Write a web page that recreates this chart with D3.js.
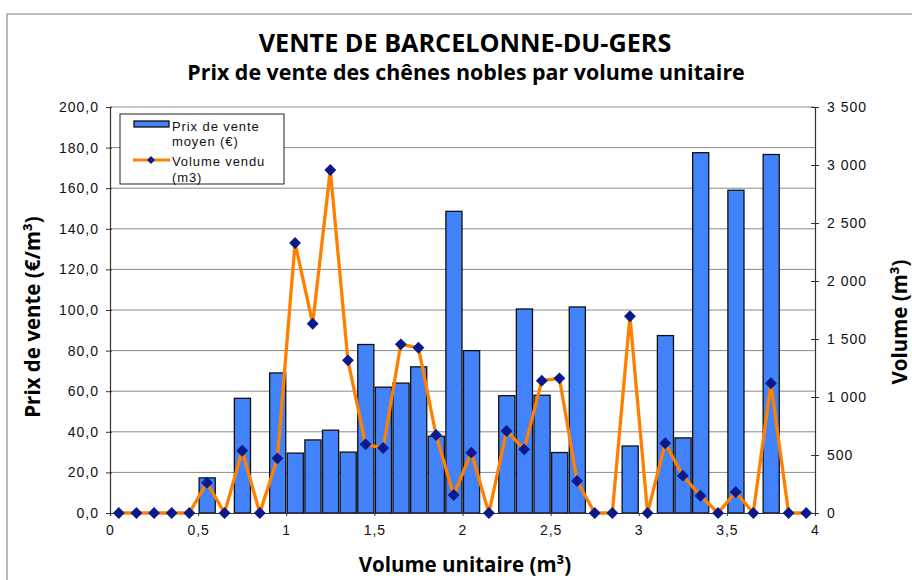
<!DOCTYPE html>
<html><head><meta charset="utf-8">
<script src="https://cdn.jsdelivr.net/npm/d3@7"></script>
<style>body{margin:0;background:#fff}svg{display:block}</style>
</head><body>
<svg id="c" width="912" height="580"></svg>
<script>
const categories = [0.05,0.15,0.25,0.35,0.45,0.55,0.65,0.75,0.85,0.95,1.05,1.15,1.25,1.35,1.45,1.55,1.65,1.75,1.85,1.95,2.05,2.15,2.25,2.35,2.45,2.55,2.65,2.75,2.85,2.95,3.05,3.15,3.25,3.35,3.45,3.55,3.65,3.75,3.85,3.95];
const prix = [0,0,0,0,0,17.3,0,56.5,0,69,29.5,36,40.8,30,83,62,64,72,37.8,148.6,80,0,57.8,100.5,58,29.8,101.5,0,0,33,0,87.4,37,177.5,0,159,0,176.6,0,0];
const volume = [0,0,0,0,0,261,0,537,0,471,2328,1632,2957,1316,592,560,1454,1425,672,155,520,0,707,549,1141,1161,276,0,0,1696,0,601,322,149,0,181,0,1118,0,0];
const leftTicks = [0,20,40,60,80,100,120,140,160,180,200];
const rightTicks = [0,500,1000,1500,2000,2500,3000,3500];
const xTicks = [0,0.5,1,1.5,2,2.5,3,3.5,4];
const titleText = "VENTE DE BARCELONNE-DU-GERS";
const subtitleText = "Prix de vente des chênes nobles par volume unitaire";

const svg = d3.select("#c");
const L = 110, R = 815, T = 107, B = 513;
const x = d3.scaleLinear().domain([0,4]).range([L,R]);
const y = d3.scaleLinear().domain([0,200]).range([B,T]);
const y2 = d3.scaleLinear().domain([0,3500]).range([B,T]);
const binW = x(0.1) - x(0);

// frame
svg.append("rect").attr("x",9).attr("y",16).attr("width",920).attr("height",600)
  .attr("fill","none").attr("stroke","#d0d0d0").attr("stroke-width",4);
svg.append("rect").attr("x",7).attr("y",14).attr("width",920).attr("height",600)
  .attr("fill","#fff").attr("stroke","#909090").attr("stroke-width",1.2);

// gridlines
svg.append("g").selectAll("line").data(leftTicks.filter(d=>d>0)).join("line")
  .attr("x1",L).attr("x2",R).attr("y1",d=>y(d)).attr("y2",d=>y(d))
  .attr("stroke","#8a8a8a").attr("stroke-width",1);

// bars
svg.append("g").selectAll("rect").data(categories.map((c,i)=>({c,v:prix[i]})).filter(d=>d.v>0)).join("rect")
  .attr("x",d=>x(d.c)-binW/2+1).attr("width",binW-1.5)
  .attr("y",d=>y(d.v)).attr("height",d=>B-y(d.v))
  .attr("fill","#4282fa").attr("stroke","#111").attr("stroke-width",1.3);

// axes
const gl = svg.append("g").attr("transform",`translate(${L},0)`)
  .call(d3.axisLeft(y).tickValues(leftTicks).tickSize(4).tickFormat(d=>d3.format(".1f")(d).replace(".",",")));
const gr = svg.append("g").attr("transform",`translate(${R},0)`)
  .call(d3.axisRight(y2).tickValues(rightTicks).tickSize(4).tickFormat(d=>d3.format(",")(d).replace(/,/g," ")));
const gb = svg.append("g").attr("transform",`translate(0,${B})`)
  .call(d3.axisBottom(x).tickValues(xTicks).tickSize(3).tickFormat(d=>String(d).replace(".",",")));
[gl,gr,gb].forEach(g=>{
  g.select(".domain").attr("stroke","#333").attr("stroke-width",1.2);
  g.selectAll(".tick line").attr("stroke","#333");
  g.selectAll("text").attr("font-family","Liberation Sans, Arial, sans-serif").attr("font-size",14)
    .attr("letter-spacing","1px").attr("fill","#111");
});
gl.selectAll(".tick line").attr("x1",2);
gr.selectAll(".tick line").attr("x1",-4);
gl.selectAll("text").attr("x",-11);
gr.selectAll("text").attr("x",12);
gb.selectAll("text").attr("y",12);

// line
const pts = categories.map((c,i)=>({c,v:volume[i]}));
svg.append("path").datum(pts)
  .attr("d",d3.line().x(d=>x(d.c)).y(d=>y2(d.v)))
  .attr("fill","none").attr("stroke","#ff8000").attr("stroke-width",3.3).attr("stroke-linejoin","round");
const sym = d3.symbol().type(d3.symbolDiamond2).size(90);
svg.append("g").selectAll("path").data(pts).join("path")
  .attr("transform",d=>`translate(${x(d.c)},${y2(d.v)})`).attr("d",sym).attr("fill","#0a1a8c");

// titles
svg.append("text").attr("x",465).attr("y",52).attr("text-anchor","middle")
  .attr("font-family","Open Sans, sans-serif").attr("font-weight","bold").attr("font-size",25.2).text(titleText);
svg.append("text").attr("x",466).attr("y",80).attr("text-anchor","middle")
  .attr("font-family","Open Sans, sans-serif").attr("font-weight","bold").attr("font-size",21.4).text(subtitleText);
svg.append("text").attr("x",465).attr("y",572).attr("text-anchor","middle")
  .attr("font-family","Open Sans, sans-serif").attr("font-weight","bold").attr("font-size",20.5).text("Volume unitaire (m³)");
svg.append("text").attr("transform","translate(40,317) rotate(-90)").attr("text-anchor","middle")
  .attr("font-family","Open Sans, sans-serif").attr("font-weight","bold").attr("font-size",20.5).text("Prix de vente (€/m³)");
svg.append("text").attr("transform","translate(907,322) rotate(-90)").attr("text-anchor","middle")
  .attr("font-family","Open Sans, sans-serif").attr("font-weight","bold").attr("font-size",20.5).text("Volume (m³)");

// legend
const lg = svg.append("g");
lg.append("rect").attr("x",120).attr("y",114).attr("width",164).attr("height",70).attr("fill","#fff").attr("stroke","#222").attr("stroke-width",1);
lg.append("rect").attr("x",134).attr("y",121).attr("width",35).attr("height",6).attr("fill","#4282fa").attr("stroke","#111").attr("stroke-width",1.3);
lg.append("line").attr("x1",133).attr("x2",170).attr("y1",160).attr("y2",160).attr("stroke","#ff8000").attr("stroke-width",3);
lg.append("path").attr("transform","translate(151,160)").attr("d",d3.symbol().type(d3.symbolDiamond2).size(40)).attr("fill","#0a1a8c");
const lt = [["Prix de vente",131],["moyen (€)",146],["Volume vendu",166],["(m3)",182]];
lg.selectAll("text.l").data(lt).join("text").attr("x",172).attr("y",d=>d[1])
  .attr("font-family","Liberation Sans, Arial, sans-serif").attr("font-size",13).attr("letter-spacing","0.9px")
  .attr("fill","#111").text(d=>d[0]);
</script>
</body></html>
